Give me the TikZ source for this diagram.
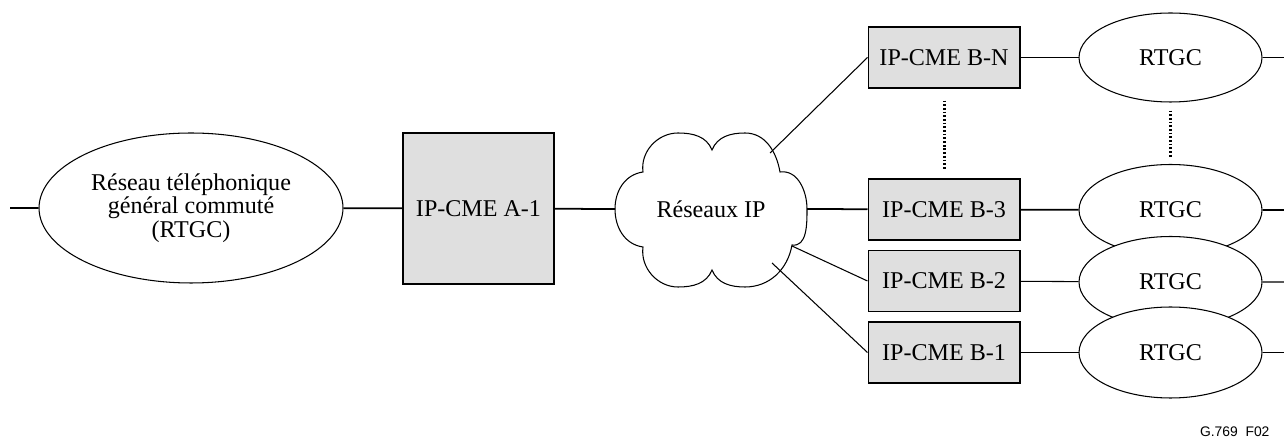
\documentclass[tikz,border=0pt]{standalone}
\usepackage{fontspec}
\setmainfont{Liberation Serif}
\newfontfamily\figfont{Liberation Sans}
\usepackage{tikz}
\usetikzlibrary{shapes.geometric}
\def\nuage{(643,172) to[out=98,in=180] (678,133) to[out=0,in=112] (712,150)
	to[out=68,in=180] (745,133) to[out=0,in=100] (780,172)
	to[out=8,in=90] (807,209) to[out=-90,in=-8] (792,245)
	to[out=-100,in=0] (745,287) to[out=180,in=-68] (712,270)
	to[out=-112,in=0] (678,287) to[out=180,in=-98] (643,247)
	to[out=172,in=-90] (615,209) to[out=90,in=188] (643,172) -- cycle}
\tikzset{
	reseau/.style={ellipse,draw,fill=white,inner sep=0pt,align=center},
	rtgc/.style={reseau,minimum width=3.66cm,minimum height=1.82cm},
	cme/.style={rectangle,draw,fill=gray!25,inner sep=0pt},
	cmeb/.style={cme,minimum width=3.04cm,minimum height=1.22cm},
	trait/.style={line width=1pt},
	fin/.style={line width=0.6pt},
	suite/.style={line width=1.7pt,dash pattern=on 1pt off 1.1pt}
}

\begin{document}
\begin{tikzpicture}[x=0.02cm,y=-0.02cm,line width=0.6pt,
	node font=\fontsize{13.7}{13.4}\selectfont]
		\useasboundingbox (0,0) rectangle (1284,445);

		\node[reseau,minimum width=6.08cm,minimum height=3cm] (pstn) at (191,208)
			{Réseau téléphonique\\général commuté\\(RTGC)};
		\node[cme,minimum width=3.02cm,minimum height=3.02cm] (a1) at (478.5,208.5) {IP-CME A-1};

		\draw[fill=white] \nuage;
		\node (ip) at (711,209.5) {Réseaux IP};
		\coordinate (ipw) at (615,209);
		\coordinate (ipe) at (807,209);
		\coordinate (ipn) at (770,153);
		\coordinate (ips) at (792,246);
		\coordinate (ipss) at (772,263);

		\node[cmeb] (bn) at (944,57.5) {IP-CME B-N};
		\node[cmeb] (b3) at (944,209.5) {IP-CME B-3};
		\node[cmeb] (b2) at (944,281) {IP-CME B-2};
		\node[cmeb] (b1) at (944,352.5) {IP-CME B-1};

		\node[rtgc,minimum height=1.78cm] (rn) at (1170.5,57.5) {RTGC};
		\node[rtgc] (r3) at (1170.5,210) {RTGC};

		\coordinate (g) at (10,208);
		\coordinate (dn) at (1284,57.5);
		\coordinate (d3) at (1284,210);
		\coordinate (d2) at (1284,282);
		\coordinate (d1) at (1284,352.5);

		\draw[trait] (g) -- (pstn) -- (a1) -- (ipw);
		\draw[trait] (ipe) -- (b3) -- (r3) -- (d3);
		\draw[fin] (ipn) -- (bn.west);
		\draw[fin] (ips) -- (b2.west);
		\draw[fin] (ipss) -- (b1.west);
		\draw[fin] (bn) -- (rn) -- (dn);

		\draw[suite,shorten <=0.24cm,shorten >=0.18cm] (bn.south) -- (b3.north);
		\draw[suite,shorten <=0.16cm,shorten >=0.12cm] (rn.south) -- (r3.north);

		\node[rtgc] (r2) at (1170.5,282) {RTGC};
		\node[rtgc] (r1) at (1170.5,352.5) {RTGC};
		\draw[fin] (b2) -- (r2) -- (d2);
		\draw[fin] (b1) -- (r1) -- (d1);

		\node[anchor=east,font=\figfont\fontsize{7.9}{9}\selectfont] (fig) at (1278,432) {G.769\ \ F02};
\end{tikzpicture}
\end{document}
